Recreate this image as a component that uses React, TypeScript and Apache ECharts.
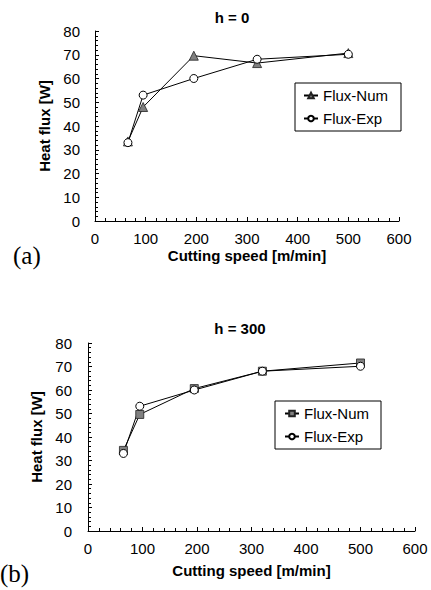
import React, { useEffect, useRef } from "react";
import * as echarts from "echarts";

const speeds = [65, 95, 195, 320, 500];
const numA = [33.5, 48, 69.6, 66.5, 70.7];
const expA = [33, 53, 60, 68.1, 70.2];
const numB = [34.3, 49.6, 60.6, 68, 71.5];
const expB = [33, 53.1, 60, 68, 70.1];
const xTicks = [0, 100, 200, 300, 400, 500, 600];
const yTicks = [0, 10, 20, 30, 40, 50, 60, 70, 80];
const titleA = "h = 0";
const titleB = "h = 300";
const legendNames = ["Flux-Num", "Flux-Exp"];

const FONT = "'Liberation Sans', Arial, Helvetica, sans-serif";

function pairs(xs: number[], ys: number[]) {
  return xs.map((x, i) => [x, ys[i]]);
}

export default function App() {
  const ref = useRef<HTMLDivElement>(null);
  useEffect(() => {
    if (!ref.current) return;
    const chart = echarts.init(ref.current, undefined, { renderer: "svg" });
    const axisCommon = {
      axisLine: { show: true, lineStyle: { color: "#000", width: 1 } },
      axisTick: { show: true, inside: true, length: 4, lineStyle: { color: "#000", width: 1 } },
      minorTick: { show: true, splitNumber: 5, length: 3, lineStyle: { color: "#000", width: 1 } },
      splitLine: { show: false },
      minorSplitLine: { show: false },
      axisLabel: { color: "#000", fontSize: 15, fontFamily: FONT },
      nameTextStyle: { color: "#000", fontSize: 15, fontWeight: "bold", fontFamily: FONT },
    };
    const xAxis = (gi: number, nameGap: number) => ({
      ...axisCommon,
      type: "value",
      gridIndex: gi,
      min: xTicks[0],
      max: xTicks[xTicks.length - 1],
      interval: xTicks[1] - xTicks[0],
      name: "Cutting speed [m/min]",
      nameLocation: "middle",
      nameGap,
      axisLabel: { ...axisCommon.axisLabel, margin: 10 },
    });
    const yAxis = (gi: number, nameGap: number, margin: number) => ({
      ...axisCommon,
      type: "value",
      gridIndex: gi,
      min: yTicks[0],
      max: yTicks[yTicks.length - 1],
      interval: yTicks[1] - yTicks[0],
      name: "Heat flux [W]",
      nameLocation: "middle",
      nameGap,
      axisLabel: { ...axisCommon.axisLabel, margin },
    });
    const line = { color: "#000", width: 1 };
    const legendCommon = {
      orient: "vertical",
      borderColor: "#000",
      borderWidth: 1,
      itemGap: 8,
      itemWidth: 14,
      itemHeight: 7,
      textStyle: { color: "#000", fontSize: 15, fontFamily: FONT },
      formatter: (n: string) => (n.startsWith("Num") ? legendNames[0] : legendNames[1]),
    };
    chart.setOption({
      animation: false,
      backgroundColor: "#fff",
      grid: [
        { left: 95, top: 31, width: 304, height: 190 },
        { left: 88, top: 343, width: 327, height: 188 },
      ],
      xAxis: [xAxis(0, 27), xAxis(1, 32)],
      yAxis: [yAxis(0, 35, 15), yAxis(1, 43, 16)],
      legend: [
        { ...legendCommon, left: 295, top: 83, padding: [5, 13, 5, 8], data: ["Num A", "Exp A"] },
        { ...legendCommon, left: 275, top: 401, padding: [5, 12, 5, 9], data: ["Num B", "Exp B"] },
      ],
      series: [
        {
          name: "Num A", type: "line", xAxisIndex: 0, yAxisIndex: 0,
          data: pairs(speeds, numA), symbol: "triangle", symbolSize: 9,
          lineStyle: line, itemStyle: { color: "#808080", borderColor: "#222", borderWidth: 0.8 },
        },
        {
          name: "Exp A", type: "line", xAxisIndex: 0, yAxisIndex: 0,
          data: pairs(speeds, expA), symbol: "circle", symbolSize: 8,
          lineStyle: line, itemStyle: { color: "#fff", borderColor: "#000", borderWidth: 1 },
        },
        {
          name: "Num B", type: "line", xAxisIndex: 1, yAxisIndex: 1,
          data: pairs(speeds, numB), symbol: "rect", symbolSize: 8,
          lineStyle: line, itemStyle: { color: "#808080", borderColor: "#222", borderWidth: 0.8 },
        },
        {
          name: "Exp B", type: "line", xAxisIndex: 1, yAxisIndex: 1,
          data: pairs(speeds, expB), symbol: "circle", symbolSize: 8,
          lineStyle: line, itemStyle: { color: "#fff", borderColor: "#000", borderWidth: 1 },
        },
      ],
      graphic: [
        {
          type: "text", x: 232, y: 17,
          style: { text: titleA, textAlign: "center", textVerticalAlign: "middle", font: `bold 15px ${FONT}`, fill: "#000" },
        },
        {
          type: "text", x: 240, y: 328,
          style: { text: titleB, textAlign: "center", textVerticalAlign: "middle", font: `bold 15px ${FONT}`, fill: "#000" },
        },
        {
          type: "text", x: 13, y: 255,
          style: { text: "(a)", textAlign: "left", textVerticalAlign: "middle", font: `25px 'Liberation Serif', 'Times New Roman', serif`, fill: "#000" },
        },
        {
          type: "text", x: 0, y: 573,
          style: { text: "(b)", textAlign: "left", textVerticalAlign: "middle", font: `25px 'Liberation Serif', 'Times New Roman', serif`, fill: "#000" },
        },
      ],
    });
    return () => chart.dispose();
  }, []);
  return (
    <div
      ref={ref}
      style={{ position: "fixed", left: 0, top: 0, width: 431, height: 590 }}
    />
  );
}
